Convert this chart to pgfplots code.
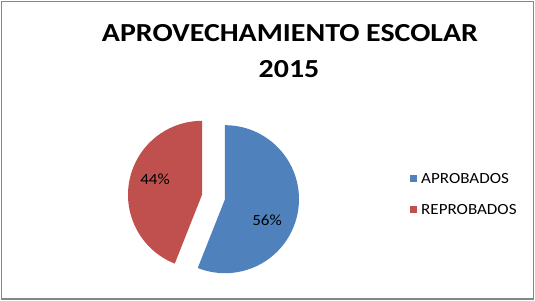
\documentclass[border=0pt]{standalone}
\usepackage{fontspec}
\setmainfont{Carlito}
\usepackage{pgfplots}
\usepackage{pgfplotstable}
\pgfplotsset{compat=1.18}
\definecolor{pieblue}{RGB}{79,129,189}
\definecolor{piered}{RGB}{192,80,77}
\definecolor{framegray}{RGB}{134,134,134}
\pgfplotstableread{
label value
APROBADOS 56
REPROBADOS 44
}\datatable
\begin{document}
\begin{tikzpicture}
\pgfplotstablegetelem{0}{value}\of\datatable \let\va\pgfplotsretval
\pgfplotstablegetelem{1}{value}\of\datatable \let\vb\pgfplotsretval
\pgfmathsetmacro{\aend}{90-3.6*\va}
\pgfmathsetmacro{\amidA}{90-1.8*\va}
\pgfmathsetmacro{\amidB}{\aend-1.8*\vb}
\begin{axis}[
  width=535bp, height=301bp, scale only axis,
  xmin=0, xmax=535, ymin=0, ymax=301,
  hide axis, clip=false,
]
\path (axis cs:0,0) rectangle (axis cs:535,301);
\fill[pieblue, shift={(\amidA:11.7bp)}] (axis cs:213.5,104) -- ++(90:74bp)
   arc[start angle=90, end angle=\aend, radius=74bp] -- cycle;
\fill[piered, shift={(\amidB:11.7bp)}] (axis cs:213.5,104) -- ++(\aend:74bp)
   arc[start angle=\aend, end angle=-270, radius=74bp] -- cycle;
\node[anchor=base, font=\fontsize{15.5bp}{18bp}\selectfont, xscale=1.1, inner sep=0pt] at (axis cs:155,116) {\vb\%};
\node[anchor=base, font=\fontsize{15.5bp}{18bp}\selectfont, xscale=1.1, inner sep=0pt] at (axis cs:267,75) {\va\%};
% legend
\fill[pieblue] (axis cs:410,118.7) rectangle (axis cs:417.3,126);
\fill[piered] (axis cs:410,87.7) rectangle (axis cs:417.3,95);
\node[anchor=base west, font=\fontsize{15.5bp}{18bp}\selectfont, xscale=1.1, inner sep=0pt] at (axis cs:421,117) {APROBADOS};
\node[anchor=base west, font=\fontsize{15.5bp}{18bp}\selectfont, xscale=1.1, inner sep=0pt] at (axis cs:421,86) {REPROBADOS};
% title
\node[anchor=base, font=\bfseries\fontsize{26bp}{30bp}\selectfont, xscale=1.15, inner sep=0pt] at (axis cs:290,259) {APROVECHAMIENTO ESCOLAR};
\node[anchor=base, font=\bfseries\fontsize{26bp}{30bp}\selectfont, xscale=1.15, inner sep=0pt] at (axis cs:289,223) {2015};
\draw[framegray, line width=1.5bp] (axis cs:1.5,2) rectangle (axis cs:533.3,299.5);
\end{axis}
\end{tikzpicture}
\end{document}
